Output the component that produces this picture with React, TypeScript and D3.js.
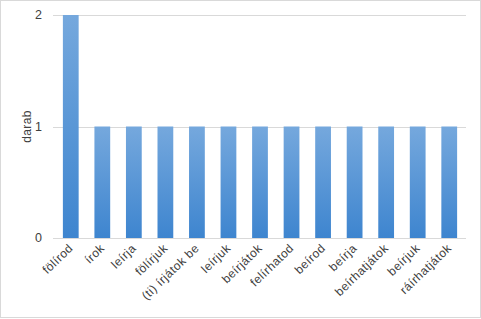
import React from "react";
import * as d3 from "d3";

const categories = ["fölírod", "írok", "leírja", "fölírjuk", "(ti) írjátok be", "leírjuk", "beírjátok", "felírhatod", "beírod", "beírja", "beírhatjátok", "beírjuk", "ráírhatjátok"];
const values = [2, 1, 1, 1, 1, 1, 1, 1, 1, 1, 1, 1, 1];
const yTicks = [0, 1, 2];
const yTitle = "darab";

const W = 481, H = 319;
const left = 55, right = 465, top = 15, bottom = 238;

export default function App() {
  const x = d3.scaleBand<string>().domain(categories).range([left, right]).paddingInner(0.5).paddingOuter(0.25);
  const y = d3.scaleLinear().domain([0, 2]).range([bottom, top]);
  const font = "'Liberation Sans', Arial, sans-serif";
  return (
    <div style={{ position: "fixed", left: 0, top: 0 }}>
      <svg width={W} height={H} style={{ display: "block", background: "#fff" }}>
        <defs>
          <linearGradient id="barGrad" x1="0" y1="0" x2="0" y2="1">
            <stop offset="0" stopColor="#75a8dd" />
            <stop offset="1" stopColor="#3e85cf" />
          </linearGradient>
        </defs>
        <rect x={0.5} y={0.5} width={W - 1} height={H - 2} fill="#fff" stroke="#d9d9d9" />
        {yTicks.map(t => (
          <g key={t}>
            <line x1={53} x2={466} y1={Math.round(y(t)) + 0.5} y2={Math.round(y(t)) + 0.5} stroke="#d9d9d9" />
            <text x={42} y={y(t)} dy="0.35em" textAnchor="end" fontFamily={font} fontSize={12.5} fill="#404040">{t}</text>
          </g>
        ))}
        <text transform={`translate(31,${y(1)}) rotate(-90)`} textAnchor="middle" fontFamily={font} fontSize={12} letterSpacing={0.4} fill="#404040">{yTitle}</text>
        {categories.map((c, i) => (
          <rect key={c} x={x(c)} y={y(values[i])} width={x.bandwidth()} height={y(0) - y(values[i])} fill="url(#barGrad)" />
        ))}
        {categories.map(c => {
          const cx = (x(c) as number) + x.bandwidth() / 2 + 3;
          return (
            <text key={c} transform={`translate(${cx},${bottom + 11}) rotate(-44)`} textAnchor="end" fontFamily={font} fontSize={12} letterSpacing={0.5} fill="#404040">{c}</text>
          );
        })}
      </svg>
    </div>
  );
}
